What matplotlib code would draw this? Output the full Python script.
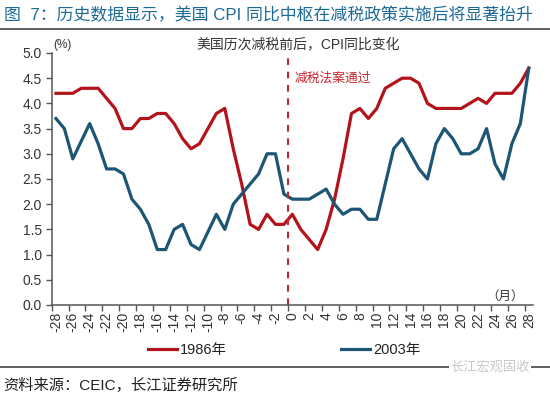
import matplotlib
matplotlib.use("Agg")
import matplotlib.pyplot as plt
from matplotlib.lines import Line2D
from matplotlib.ticker import FixedLocator, FixedFormatter

plt.rcParams['font.family'] = ['Liberation Sans', 'Noto Sans CJK SC', 'DejaVu Sans']

months = list(range(-28, 29))
cpi_1986 = [4.2, 4.2, 4.2, 4.3, 4.3, 4.3, 4.1, 3.9, 3.5, 3.5,
            3.7, 3.7, 3.8, 3.8, 3.6, 3.3, 3.1, 3.2, 3.5, 3.8,
            3.9, 3.1, 2.4, 1.6, 1.5, 1.8, 1.6, 1.6, 1.8, 1.5,
            1.3, 1.1, 1.5, 2.1, 2.9, 3.8, 3.9, 3.7, 3.9, 4.3,
            4.4, 4.5, 4.5, 4.4, 4.0, 3.9, 3.9, 3.9, 3.9, 4.0,
            4.1, 4.0, 4.2, 4.2, 4.2, 4.4, 4.7]
cpi_2003 = [3.7, 3.5, 2.9, 3.25, 3.6, 3.2, 2.7, 2.7, 2.6, 2.1,
            1.9, 1.6, 1.1, 1.1, 1.5, 1.6, 1.2, 1.1, 1.45, 1.8,
            1.5, 2.0, 2.2, 2.4, 2.6, 3.0, 3.0, 2.2, 2.1, 2.1,
            2.1, 2.2, 2.3, 2.0, 1.8, 1.9, 1.9, 1.7, 1.7, 2.4,
            3.1, 3.3, 3.0, 2.7, 2.5, 3.2, 3.5, 3.3, 3.0, 3.0,
            3.1, 3.5, 2.8, 2.5, 3.2, 3.6, 4.7]
x_labels = list(range(-28, 29, 2))
y_ticks = [0.0, 0.5, 1.0, 1.5, 2.0, 2.5, 3.0, 3.5, 4.0, 4.5, 5.0]
series_names = ['1986年', '2003年']

RED = '#b3141c'
BLUE = '#1c5674'
AXC = '#555555'

W, H = 550, 393
fig = plt.figure(figsize=(5.5, 3.93), dpi=100)
ax = fig.add_axes([51.7 / W, 1 - 305 / H, (533 - 51.7) / W, (305 - 53) / H])

ax.plot(months, cpi_1986, color=RED, lw=2.3, solid_joinstyle='round')
ax.plot(months, cpi_2003, color=BLUE, lw=2.3, solid_joinstyle='round')
ax.axvline(-0.5, ymin=0, ymax=0.985, color='#c4262e', lw=1.5, ls=(0, (3.2, 3.2)))
ax.text(0.3, 4.5, '减税法案通过', color='#c4262e', fontsize=9.2, ha='left', va='center',
        family=['Noto Sans CJK SC'])

ax.set_xlim(-28.5, 28.5)
ax.set_ylim(0, 5.0)
for s in ['top', 'right']:
    ax.spines[s].set_visible(False)
for s in ['left', 'bottom']:
    ax.spines[s].set_color(AXC)
    ax.spines[s].set_linewidth(1.1)

ax.xaxis.set_major_locator(FixedLocator([v - 0.5 for v in x_labels]))
ax.xaxis.set_major_formatter(FixedFormatter([''] * len(x_labels)))
ax.xaxis.set_minor_locator(FixedLocator(x_labels))
ax.xaxis.set_minor_formatter(FixedFormatter([str(v) for v in x_labels]))
ax.tick_params(axis='x', which='major', direction='out', length=4, color=AXC, width=1)
ax.tick_params(axis='x', which='minor', length=0, labelsize=10, labelrotation=90,
               labelcolor='#333333', pad=5)
ax.set_yticks(y_ticks)
ax.set_yticklabels([f'{v:.1f}' for v in y_ticks])
ax.tick_params(axis='y', direction='out', length=4, color=AXC, width=1, labelsize=10,
               labelcolor='#333333', pad=3)

# texts
fig.text(4 / W, 1 - 15 / H, '图  7：历史数据显示，美国 CPI 同比中枢在减税政策实施后将显著抬升',
         color='#1d6a96', fontsize=12.2, ha='left', va='center',
         family=['Liberation Sans', 'Noto Sans CJK SC'])
fig.add_artist(Line2D([0, 1], [1 - 29 / H, 1 - 29 / H], color='#444444', lw=1.2))
fig.text(298 / W, 1 - 45 / H, '美国历次减税前后，CPI同比变化', color='#333333', fontsize=10,
         ha='center', va='center')
fig.text(53 / W, 1 - 45 / H, '(%)', color='#333333', fontsize=8.5, ha='left', va='center')
fig.text(505 / W, 1 - 296 / H, '（月）', color='#333333', fontsize=9, ha='center', va='center',
         family=['Noto Sans CJK SC'])

handles = [Line2D([], [], color=RED, lw=2.3), Line2D([], [], color=BLUE, lw=2.3)]
fig.legend(handles, series_names, loc='center', bbox_to_anchor=(284 / W, 1 - 350 / H),
           ncol=2, frameon=False, fontsize=10.5, handlelength=2.0, handletextpad=0.2,
           columnspacing=7.8, labelcolor='#222222')

fig.add_artist(Line2D([0, 1], [1 - 367 / H, 1 - 367 / H], color='#444444', lw=1.2))
fig.text(490 / W, 1 - 367 / H, '长江宏观固收', color='#c8c8c8', fontsize=9.5, ha='center',
         va='center', family=['Noto Sans CJK SC'],
         bbox=dict(facecolor='white', edgecolor='none', pad=1))
fig.text(3 / W, 1 - 385 / H, '资料来源：CEIC，长江证券研究所', color='#222222', fontsize=11,
         ha='left', va='center')

fig.savefig('out.png', dpi=100)
